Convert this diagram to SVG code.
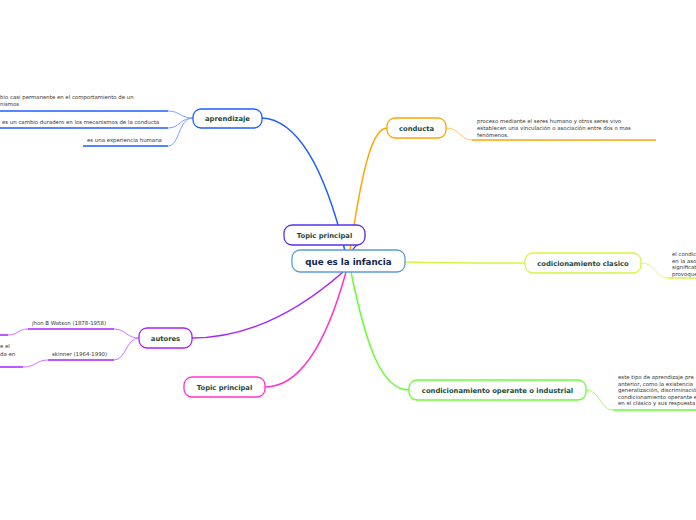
<svg xmlns="http://www.w3.org/2000/svg" width="696" height="520" viewBox="0 0 696 520">
<style>
.node{fill:#fff;stroke-width:1.3}
.t{font-family:"DejaVu Sans",Verdana,sans-serif;font-weight:bold;fill:#1d4a3c;text-anchor:middle}
.leaf{font-family:"DejaVu Sans",Verdana,sans-serif;font-size:5.4px;fill:#333}
.c{fill:none}
</style>
<rect width="696" height="520" fill="#fff"/>
<g id="connectors">
  <path class="c" d="M345 251 C330 190 305 120 262 118" stroke="#1f5eff" stroke-width="1.5"/>
  <path class="c" d="M350 251 C362 170 372 128 387 128" stroke="#ffa500" stroke-width="1.5"/>
  <path class="c" d="M352 251 C356 243 365 241 365 235" stroke="#5533ee" stroke-width="1.3"/>
  <path class="c" d="M405 262 C450 263 480 263 525 263" stroke="#d8f542" stroke-width="1.3"/>
  <path class="c" d="M351 272 C365 340 380 390 409 390" stroke="#66ff33" stroke-width="1.5"/>
  <path class="c" d="M346 272 C330 330 305 387 265 387" stroke="#ff33cc" stroke-width="1.5"/>
  <path class="c" d="M343 272 C300 310 250 338 192 338" stroke="#aa22ff" stroke-width="1.5"/>
  <path class="c" d="M193 118 C180 118 180 111 168 111" stroke="#7da2ff" stroke-width="1"/>
  <path class="c" d="M193 118 C180 118 180 128 168 128" stroke="#7da2ff" stroke-width="1"/>
  <path class="c" d="M193 118 C178 118 180 146 168 146" stroke="#7da2ff" stroke-width="1"/>
  <path class="c" d="M0 111 H168 M0 128 H168 M83 146 H168" stroke="#1f5eff" stroke-width="1.5"/>
  <path class="c" d="M446 128 C460 128 460 140 472 140" stroke="#ffc966" stroke-width="1"/>
  <path class="c" d="M472 140 H656" stroke="#ffa500" stroke-width="1.5"/>
  <path class="c" d="M641 263 C656 263 655 278 668 278" stroke="#e4f77a" stroke-width="1"/>
  <path class="c" d="M668 278 H696" stroke="#d8f542" stroke-width="1.5"/>
  <path class="c" d="M586 390 C600 390 600 410 613 410" stroke="#99ff77" stroke-width="1"/>
  <path class="c" d="M613 410 H696" stroke="#66ff33" stroke-width="1.5"/>
  <path class="c" d="M139 338 C126 338 126 329 114 329" stroke="#cc77ff" stroke-width="1"/>
  <path class="c" d="M139 338 C126 338 126 360 114 360" stroke="#cc77ff" stroke-width="1"/>
  <path class="c" d="M28 329 H114 M48 360 H114" stroke="#aa22ff" stroke-width="1.5"/>
  <path class="c" d="M28 329 C18 329 18 335 8 335" stroke="#cc77ff" stroke-width="1"/>
  <path class="c" d="M48 360 C36 360 36 367 23 367" stroke="#cc77ff" stroke-width="1"/>
  <path class="c" d="M0 335 H8 M0 367 H23" stroke="#aa22ff" stroke-width="1.5"/>
</g>
<g id="center">
  <rect class="node" x="292" y="250" width="113" height="22" rx="8" stroke="#5b9bd5"/>
  <text class="t" x="348.5" y="264.5" font-size="8.7" style="fill:#14264a">que es la infancia</text>
</g>
<g id="topic-top">
  <rect class="node" x="284" y="225" width="81" height="20" rx="8" stroke="#5533ee"/>
  <text class="t" x="324.5" y="237.5" font-size="6.8">Topic principal</text>
</g>
<g id="aprendizaje">
  <rect class="node" x="193" y="109" width="69" height="19" rx="8" stroke="#1f5eff"/>
  <text class="t" x="227.5" y="121" font-size="6.8">aprendizaje</text>
</g>
<g id="conducta">
  <rect class="node" x="387" y="118" width="59" height="20" rx="8" stroke="#ffa500"/>
  <text class="t" x="416.5" y="130.5" font-size="6.8">conducta</text>
</g>
<g id="clasico">
  <rect class="node" x="525" y="253" width="116" height="20" rx="8" stroke="#d8f542"/>
  <text class="t" x="583" y="265.5" font-size="6.8">codicionamiento clasico</text>
</g>
<g id="operante">
  <rect class="node" x="409" y="380" width="177" height="20" rx="8" stroke="#66ff33"/>
  <text class="t" x="497.5" y="392.5" font-size="6.8">condicionamiento operante o industrial</text>
</g>
<g id="topic-bottom">
  <rect class="node" x="184" y="377" width="81" height="20" rx="8" stroke="#ff33cc"/>
  <text class="t" x="224.5" y="389.5" font-size="6.8">Topic principal</text>
</g>
<g id="autores">
  <rect class="node" x="139" y="328" width="53" height="20" rx="8" stroke="#aa22ff"/>
  <text class="t" x="165.5" y="340.5" font-size="6.8">autores</text>
</g>
<g id="leaf-aprendizaje-1">
  <text class="leaf" x="0" y="99">bio casi permanente en el comportamiento de un</text>
  <text class="leaf" x="0" y="106">nismos</text>
</g>
<g id="leaf-aprendizaje-2">
  <text class="leaf" x="2" y="124">es un cambio duradero en los mecanismos  de la conducta</text>
</g>
<g id="leaf-aprendizaje-3">
  <text class="leaf" x="87" y="142">es una experiencia humana</text>
</g>
<g id="leaf-conducta">
  <text class="leaf" x="477" y="123">proceso mediante el seres humano y otros seres vivo</text>
  <text class="leaf" x="477" y="130">establecen una vinculación o asociación entre dos o mas</text>
  <text class="leaf" x="477" y="137">fenómenos.</text>
</g>
<g id="leaf-clasico">
  <text class="leaf" x="672" y="256">el condic</text>
  <text class="leaf" x="672" y="262.5">en la asoc</text>
  <text class="leaf" x="672" y="269">significat</text>
  <text class="leaf" x="672" y="275.5">provoque</text>
</g>
<g id="leaf-operante">
  <text class="leaf" x="618" y="379">este tipo de aprendizaje pre</text>
  <text class="leaf" x="618" y="385.5">anterior, como la existencia</text>
  <text class="leaf" x="618" y="392">generalización, discriminació</text>
  <text class="leaf" x="618" y="398.5">condicionamiento operante e</text>
  <text class="leaf" x="618" y="405">en el clásico y sus respuesta</text>
</g>
<g id="leaf-watson">
  <text class="leaf" x="32" y="325">jhon B Watson (1878-1958)</text>
</g>
<g id="leaf-skinner">
  <text class="leaf" x="52" y="356">skinner (1964-1990)</text>
</g>
<g id="leaf-skinner-child">
  <text class="leaf" x="0" y="348">e el</text>
  <text class="leaf" x="0" y="356">da en</text>
</g>
</svg>
